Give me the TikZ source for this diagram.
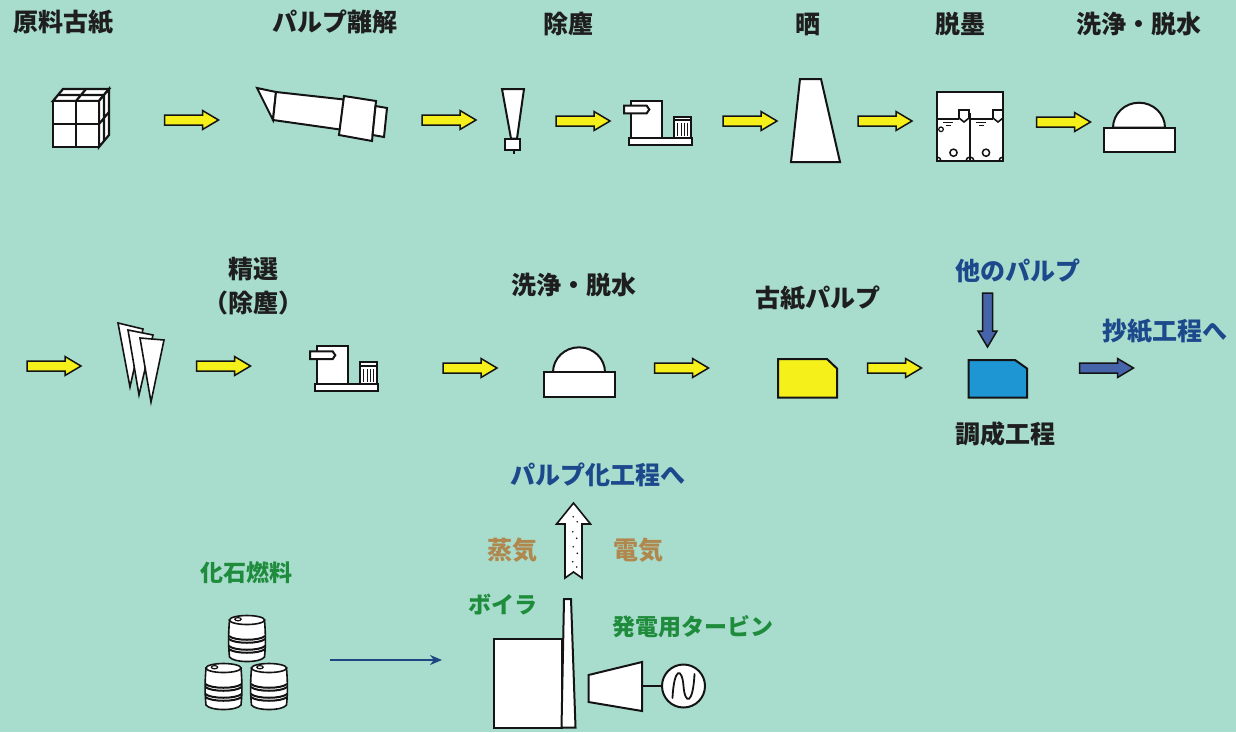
\documentclass[tikz,border=0pt]{standalone}
\usepackage{fontspec}
\setmainfont{Noto Sans CJK JP}
\usetikzlibrary{arrows.meta}
\definecolor{bg}{RGB}{168,220,204}
\definecolor{ink}{RGB}{30,30,30}
\definecolor{edge}{RGB}{20,20,20}
\definecolor{bluetxt}{RGB}{28,72,140}
\definecolor{greentxt}{RGB}{30,140,60}
\definecolor{browntxt}{RGB}{176,136,78}
\definecolor{yellowA}{RGB}{245,240,25}
\definecolor{blueA}{RGB}{70,100,170}
\definecolor{blueBox}{RGB}{30,150,212}
\definecolor{navy}{RGB}{30,70,130}
\begin{document}
\begin{tikzpicture}[x=1pt,y=-1pt,
  lbl/.style={font=\fontsize{25}{29}\selectfont\bfseries, text=ink, inner sep=0pt},
  bluelbl/.style={lbl, text=bluetxt},
  greenlbl/.style={lbl, font=\fontsize{23}{27}\selectfont\bfseries, text=greentxt},
  brownlbl/.style={lbl, text=browntxt},
  icon/.style={line width=2pt, draw=edge, fill=white, line join=miter},
  pics/blockarrow/.style={code={
    \filldraw[line width=1.5pt, draw=edge, fill=#1, line join=miter]
      (-27,-5) -- (11,-5) -- (11,-9.5) -- (27,0) -- (11,9.5) -- (11,5) -- (-27,5) -- cycle;}},
  pics/screen/.style={code={
    \filldraw[icon] (0,0) rectangle (31.6,-37.6);
    \filldraw[icon] (-6.7,-32.6) -- (16,-32.6) -- (18.6,-28.8) -- (16,-25) -- (-6.7,-25) -- cycle;
    \filldraw[icon] (-1.4,0) rectangle (61,6.7);
    \filldraw[icon] (43.3,-21.6) rectangle (60,0);
    \draw[icon] (43.3,-18) -- (60,-18);
    \foreach \x in {47,50.5,54,57} \draw[line width=0.9pt, edge] (\x,-15) -- (\x,-2);}},
  pics/washer/.style={code={
    \filldraw[icon] (-26,0) arc[start angle=180, end angle=360, x radius=26, y radius=25] -- cycle;
    \filldraw[icon] (-35.5,0) rectangle (35.5,24.5);}},
  pics/barrel/.style={code={
    \filldraw[icon, line width=1.6pt] (0,5) .. controls (-1.2,20) and (-1.2,30) .. (0,42)
      .. controls (4,48) and (31,48) .. (35,42) .. controls (36.2,30) and (36.2,20) .. (35,5) -- cycle;
    \filldraw[icon, line width=1.6pt] (17.5,5) ellipse[x radius=17.5, y radius=4.5];
    \draw[line width=1.2pt, edge] (8.5,4.2) ellipse[x radius=3.2, y radius=1.6];
    \foreach \h in {21,31}{
      \draw[line width=2pt, edge] (-0.6,\h) .. controls (5,\h+5) and (30,\h+5) .. (35.6,\h);
      \draw[line width=2pt, edge] (-0.6,\h+3) .. controls (5,\h+8) and (30,\h+8) .. (35.6,\h+3);}}}
]
\fill[bg] (0,0) rectangle (1236,732);
\useasboundingbox (0,0) rectangle (1236,732);

% ---------- first row: labels ----------
\node[lbl] (l-raw)    at (63,22)   {原料古紙};
\node[lbl] (l-pulper) at (335,22)  {パルプ離解};
\node[lbl] (l-clean)  at (568,24)  {除塵};
\node[lbl] (l-bleach) at (808,24)  {晒};
\node[lbl] (l-deink)  at (960,24)  {脱墨};
\node[lbl] (l-wash1)  at (1139,24) {洗浄・脱水};

% bale of waste paper
\begin{scope}[line width=2.2pt, draw=edge, line join=miter]
  \filldraw[fill=white] (53,101) -- (63,89) -- (109,89) -- (99,101) -- cycle;
  \filldraw[fill=white] (99,101) -- (109,89) -- (109,135) -- (99,147) -- cycle;
  \filldraw[fill=white] (53,101) rectangle (99,147);
  \draw (76,101) -- (76,147) (53,124) -- (99,124);
  \draw (76,101) -- (86,89) (58,95) -- (104,95);
  \draw (99,124) -- (109,112) (104,95) -- (104,141);
\end{scope}
\coordinate (bale) at (81,118);

% pulper
\filldraw[icon] (257,88) -- (276,92) -- (273,120) -- cycle;
\filldraw[icon] (276,92) -- (344,99.5) -- (340,129.5) -- (273,120) -- cycle;
\filldraw[icon] (344,96) -- (376,101) -- (372,141) -- (339,135) -- cycle;
\filldraw[icon] (375.5,106) -- (387,108) -- (384,137) -- (372.6,135) -- cycle;

% cyclone cleaner
\filldraw[icon] (502,89) -- (524,89) -- (517,138.5) -- (511,138.5) -- cycle;
\filldraw[icon] (504.5,139) rectangle (519.5,150);
\draw[line width=1.4pt, edge] (514,150) -- (514,153.5);

% screen
\pic at (630.7,138.3) {screen};

% bleaching tower
\filldraw[icon] (800,79) -- (821,79) -- (840,162) -- (791,162) -- cycle;

% flotation deinking cell
\filldraw[icon] (937,92) rectangle (1003,161);
\draw[line width=1.6pt, edge] (970,113) -- (970,161);
\filldraw[icon, line width=1.6pt] (959,110) -- (969,110) -- (969,118) -- (964,122) -- (959,118) -- cycle;
\filldraw[icon, line width=1.6pt] (993,110) -- (1003,110) -- (1003,118) -- (998,122) -- (993,118) -- cycle;
\draw[line width=1.2pt, edge] (937,119) -- (959,119) (943,122.5) -- (953,122.5) (946,125.5) -- (951,125.5);
\draw[line width=1.2pt, edge] (970,119) -- (993,119) (976,122.5) -- (986,122.5) (979,125.5) -- (984,125.5);
\draw[line width=1.2pt, edge] (941,129.3) circle[radius=2.3];
\draw[line width=1.5pt, edge] (953.5,152.7) circle[radius=3.6] (986,152.7) circle[radius=3.6];
\draw[line width=1.5pt, edge] (966,161) arc[start angle=180, end angle=360, radius=4];
\draw[line width=1.5pt, edge] (937,157) arc[start angle=270, end angle=360, radius=4];
\draw[line width=1.5pt, edge] (999,161) arc[start angle=180, end angle=270, radius=4];

% washer
\pic at (1139,127.7) {washer};

% first-row flow arrows
\pic at (191.5,120) {blockarrow=yellowA};
\pic at (449,120) {blockarrow=yellowA};
\pic at (583,121) {blockarrow=yellowA};
\pic at (750,121) {blockarrow=yellowA};
\pic at (885,121) {blockarrow=yellowA};
\pic at (1063.5,122) {blockarrow=yellowA};

% ---------- second row ----------
\node[lbl] (l-fine)   at (253,269) {精選};
\node[lbl] (l-fine2)  at (253,303) {（除塵）};
\node[lbl] (l-wash2)  at (574,285) {洗浄・脱水};
\node[lbl] (l-dip)    at (818,298) {古紙パルプ};
\node[bluelbl] (l-other) at (1018,271) {他のパルプ};
\node[bluelbl] (l-pm)    at (1165,331) {抄紙工程へ};
\node[lbl] (l-mix)    at (1005,434) {調成工程};

% cleaner bank
\filldraw[icon, line width=1.6pt] (118,323) -- (143,329) -- (130,387) -- cycle;
\filldraw[icon, line width=1.6pt] (128,330) -- (153,335) -- (139,395) -- cycle;
\filldraw[icon, line width=1.6pt] (140,338) -- (164,340) -- (151,402) -- cycle;

% screen
\pic at (316.7,384) {screen};

% washer
\pic at (579,372.3) {washer};

% deinked pulp chest
\filldraw[line width=2pt, draw=edge, fill=yellowA, line join=miter]
  (778,359) -- (827,359) -- (837,368.5) -- (837,397.5) -- (778,397.5) -- cycle;
\coordinate (dip) at (807,378);

% blending chest
\filldraw[line width=2pt, draw=edge, fill=blueBox, line join=miter]
  (968.5,360) -- (1015,360) -- (1027,368.5) -- (1027,397.5) -- (968.5,397.5) -- cycle;
\coordinate (mix) at (998,378);

% second-row flow arrows
\pic at (54,366) {blockarrow=yellowA};
\pic at (223.5,366) {blockarrow=yellowA};
\pic at (470,368) {blockarrow=yellowA};
\pic at (681.5,368) {blockarrow=yellowA};
\pic at (894.5,368) {blockarrow=yellowA};
\pic at (1106.5,368) {blockarrow=blueA};
\pic[rotate=-90] at (987.5,320) {blockarrow=blueA};

% ---------- energy section ----------
\node[bluelbl] (l-topulp) at (598,475) {パルプ化工程へ};
\node[brownlbl] (l-steam) at (512,550) {蒸気};
\node[brownlbl] (l-power) at (638,550) {電気};
\node[greenlbl] (l-fuel)  at (246,573) {化石燃料};
\node[greenlbl] (l-boiler) at (503,605) {ボイラ};
\node[greenlbl] (l-turbine) at (693,627) {発電用タービン};

% fuel drums
\pic at (229.5,615) {barrel};
\pic at (206,663) {barrel};
\pic at (251.5,663) {barrel};

% fuel line to the boiler
\coordinate (fuel-out) at (330,660);
\coordinate (boiler-in) at (442,660);
\draw[navy, line width=1.8pt, -{Stealth[length=12pt, width=10pt]}] (fuel-out) -- (boiler-in);

% boiler with stack
\filldraw[icon] (493.5,638.5) rectangle (561.5,727.5);
\filldraw[icon] (561.5,727.5) -- (575.5,727.5) -- (571,599) -- (564,599) -- cycle;

% turbine and generator
\filldraw[icon] (588.5,675) -- (642,662) -- (642,711) -- (588.5,702) -- cycle;
\node[circle, draw=edge, fill=white, line width=2pt, minimum size=43pt, inner sep=0pt] (gen) at (683.5,686) {};
\draw[line width=2pt, edge] (642,686) -- (gen.west);
\draw[line width=1.8pt, edge, line cap=round]
  (672.5,698) .. controls (674,667) and (682,667) .. (683.5,686)
  .. controls (685,705) and (693,705) .. (694.5,674);

% steam arrow
\filldraw[line width=1.6pt, draw=edge, fill=white, line join=miter]
  (573.5,503) -- (590.5,524) -- (582,524) -- (582,578) -- (573.5,572) -- (565,578) -- (565,524) -- (556.5,524) -- cycle;
\foreach \p in {(573.3,516.7),(577.3,521.7),(572.7,531.7),(576.7,538.3),(573.3,546.7),(577.3,553.3),(572.7,561.7),(576.7,567)}
  \fill[edge] \p circle[radius=0.9];
\end{tikzpicture}
\end{document}
